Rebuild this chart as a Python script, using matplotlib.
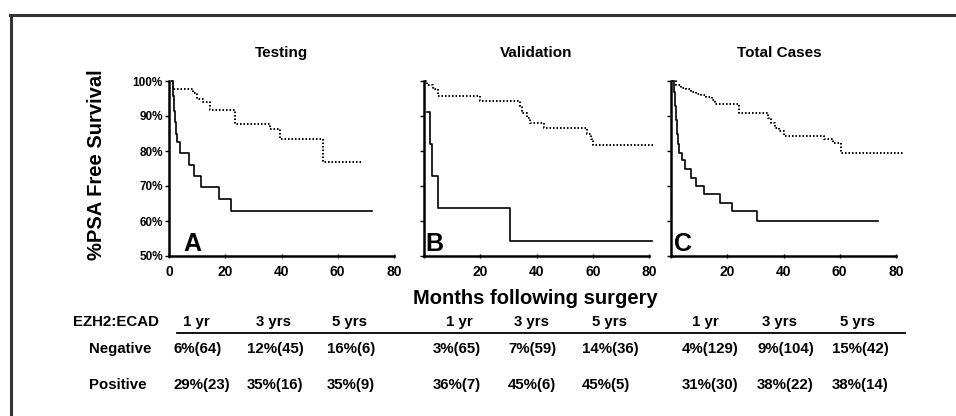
import matplotlib
matplotlib.use("Agg")
import matplotlib.pyplot as plt
from matplotlib.lines import Line2D

plt.rcParams['font.family'] = ['Liberation Sans', 'DejaVu Sans']
plt.rcParams['font.weight'] = 'bold'

W, H = 956, 416

# ---------------- data ----------------
panel_titles = ["Testing", "Validation", "Total Cases"]
panel_letters = ["A", "B", "C"]

# Testing
A_pos_t = [1.4, 1.5, 1.7, 2.0, 2.4, 3.0, 3.8, 7.1, 8.8, 11.5, 17.7, 22.0, 72.0]
A_pos_s = [100, 95.6, 91.3, 88.3, 85.0, 82.5, 79.3, 76.0, 72.9, 69.7, 66.2, 62.8, 62.8]
A_neg_t = [0.8, 1.4, 8.5, 10.0, 12.0, 14.5, 23.4, 35.8, 39.4, 54.6, 69.0]
A_neg_s = [100, 97.7, 96.6, 95.0, 94.0, 91.6, 87.8, 86.3, 83.5, 76.9, 76.9]

# Validation
B_pos_t = [1.2, 2.3, 2.8, 4.8, 30.4, 81.2]
B_pos_s = [91.1, 81.9, 72.9, 63.6, 54.3, 54.3]
B_neg_t = [0.4, 1.2, 3.3, 5.1, 20.0, 34.0, 35.0, 36.6, 37.8, 42.6, 58.0, 59.5, 60.2, 82.2]
B_neg_s = [100, 99.0, 97.6, 95.7, 94.3, 92.9, 91.0, 89.3, 88.1, 86.5, 84.8, 83.3, 81.7, 81.7]

# Total cases
C_pos_t = [1.0, 1.2, 1.5, 1.8, 2.2, 2.6, 3.0, 3.8, 5.0, 7.2, 9.0, 11.8, 17.5, 21.6, 30.6, 73.6]
C_pos_s = [100, 97, 93, 89, 85, 82, 79.5, 77.3, 74.8, 72.4, 70.0, 67.8, 65.2, 62.9, 60.0, 60.0]
C_neg_t = [0.5, 1.8, 3.6, 5.4, 7.2, 9.0, 10.8, 12.6, 14.4, 15.5, 24.0, 34.5, 35.5, 37.0,
           38.5, 40.0, 54.5, 57.5, 60.5, 82.8]
C_neg_s = [100, 99.0, 98.1, 97.6, 96.9, 96.4, 96.0, 95.4, 94.5, 93.3, 91.0, 89.5, 88.1, 86.7,
           85.7, 84.3, 83.3, 82.4, 79.5, 79.5]

curves = [((A_pos_t, A_pos_s), (A_neg_t, A_neg_s)),
          ((B_pos_t, B_pos_s), (B_neg_t, B_neg_s)),
          ((C_pos_t, C_pos_s), (C_neg_t, C_neg_s))]

y_ticks = [50, 60, 70, 80, 90, 100]
y_tick_labels = ["50%", "60%", "70%", "80%", "90%", "100%"]
x_ticks = [0, 20, 40, 60, 80]

table_header_label = "EZH2:ECAD"
table_row_labels = ["Negative", "Positive"]
table_col_labels = ["1 yr", "3 yrs", "5 yrs"] * 3
table_negative = ["6%(64)", "12%(45)", "16%(6)", "3%(65)", "7%(59)", "14%(36)",
                  "4%(129)", "9%(104)", "15%(42)"]
table_positive = ["29%(23)", "35%(16)", "35%(9)", "36%(7)", "45%(6)", "45%(5)",
                  "31%(30)", "38%(22)", "38%(14)"]

# ---------------- layout ----------------
fig = plt.figure(figsize=(W / 100, H / 100), dpi=100)
fig.patch.set_facecolor("white")


def fx(x):
    return x / W


def fy(y):
    return 1 - y / H


ax_left_px = [169, 424, 671]
ax_w_px = 225
ax_top_px, ax_bot_px = 81, 256
title_x_px = [281, 536, 779]
letter_x = [5.0, 0.4, 1.2]

for i in range(3):
    ax = fig.add_axes([fx(ax_left_px[i]), fy(ax_bot_px), ax_w_px / W,
                       (ax_bot_px - ax_top_px) / H])
    ax.set_xlim(0, 80)
    ax.set_ylim(50, 100)
    (pt, ps), (nt, ns) = curves[i]
    ax.step(pt, ps, where="post", color="black", lw=1.2, clip_on=False)
    ax.step(nt, ns, where="post", color="black", lw=1.4,
            linestyle=(0, (0.8, 1.0)), clip_on=False)
    for s in ["top", "right"]:
        ax.spines[s].set_visible(False)
    for s in ["left", "bottom"]:
        ax.spines[s].set_linewidth(1.8)
    ax.set_yticks(y_ticks)
    ax.set_xticks(x_ticks)
    ax.tick_params(axis="y", direction="out", length=3, width=1, pad=1.5,
                   labelsize=8.5)
    ax.tick_params(axis="x", direction="inout", length=3, width=1, pad=5,
                   labelsize=10)
    if i == 0:
        ax.set_yticklabels(y_tick_labels, fontweight="bold")
        ax.set_xticklabels([str(v) for v in x_ticks], fontweight="bold")
    else:
        ax.set_yticklabels([])
        ax.set_xticklabels([""] + [str(v) for v in x_ticks[1:]], fontweight="bold")
    ax.text(letter_x[i], 51.5, panel_letters[i], fontsize=18, fontweight="bold",
            ha="left", va="baseline")
    fig.text(fx(title_x_px[i]), fy(53), panel_titles[i], fontsize=11,
             fontweight="bold", ha="center", va="center")

fig.text(fx(97), fy(165), "%PSA Free Survival", rotation=90, fontsize=14.5,
         fontweight="bold", ha="center", va="center")
fig.text(fx(535), fy(298), "Months following surgery", fontsize=14.5,
         fontweight="bold", ha="center", va="center")

# ---------------- table ----------------
header_x_px = [196, 273, 349, 459, 532, 610, 705, 779, 857]
value_x_px = [173, 247, 327, 433, 508, 582, 682, 757, 832]
header_base, neg_base, pos_base = 326, 353, 389
tfs = 10.8

fig.text(fx(73), fy(header_base), table_header_label, fontsize=tfs,
         fontweight="bold", ha="left", va="baseline")
fig.text(fx(89), fy(neg_base), table_row_labels[0], fontsize=tfs,
         fontweight="bold", ha="left", va="baseline")
fig.text(fx(89), fy(pos_base), table_row_labels[1], fontsize=tfs,
         fontweight="bold", ha="left", va="baseline")
for j in range(9):
    fig.text(fx(header_x_px[j]), fy(header_base), table_col_labels[j], fontsize=tfs,
             fontweight="bold", ha="center", va="baseline")
    fig.text(fx(value_x_px[j]), fy(neg_base), table_negative[j], fontsize=tfs,
             fontweight="bold", ha="left", va="baseline")
    fig.text(fx(value_x_px[j]), fy(pos_base), table_positive[j], fontsize=tfs,
             fontweight="bold", ha="left", va="baseline")

fig.add_artist(Line2D([fx(177), fx(905)], [fy(333), fy(333)], color="black", lw=1.3))

# ---------------- frame ----------------
fig.add_artist(Line2D([fx(10), fx(956)], [fy(15), fy(15)], color="#333333", lw=2.2))
fig.add_artist(Line2D([fx(11), fx(11)], [fy(15), fy(416)], color="#333333", lw=2.2))

fig.savefig("out.png", dpi=100)
